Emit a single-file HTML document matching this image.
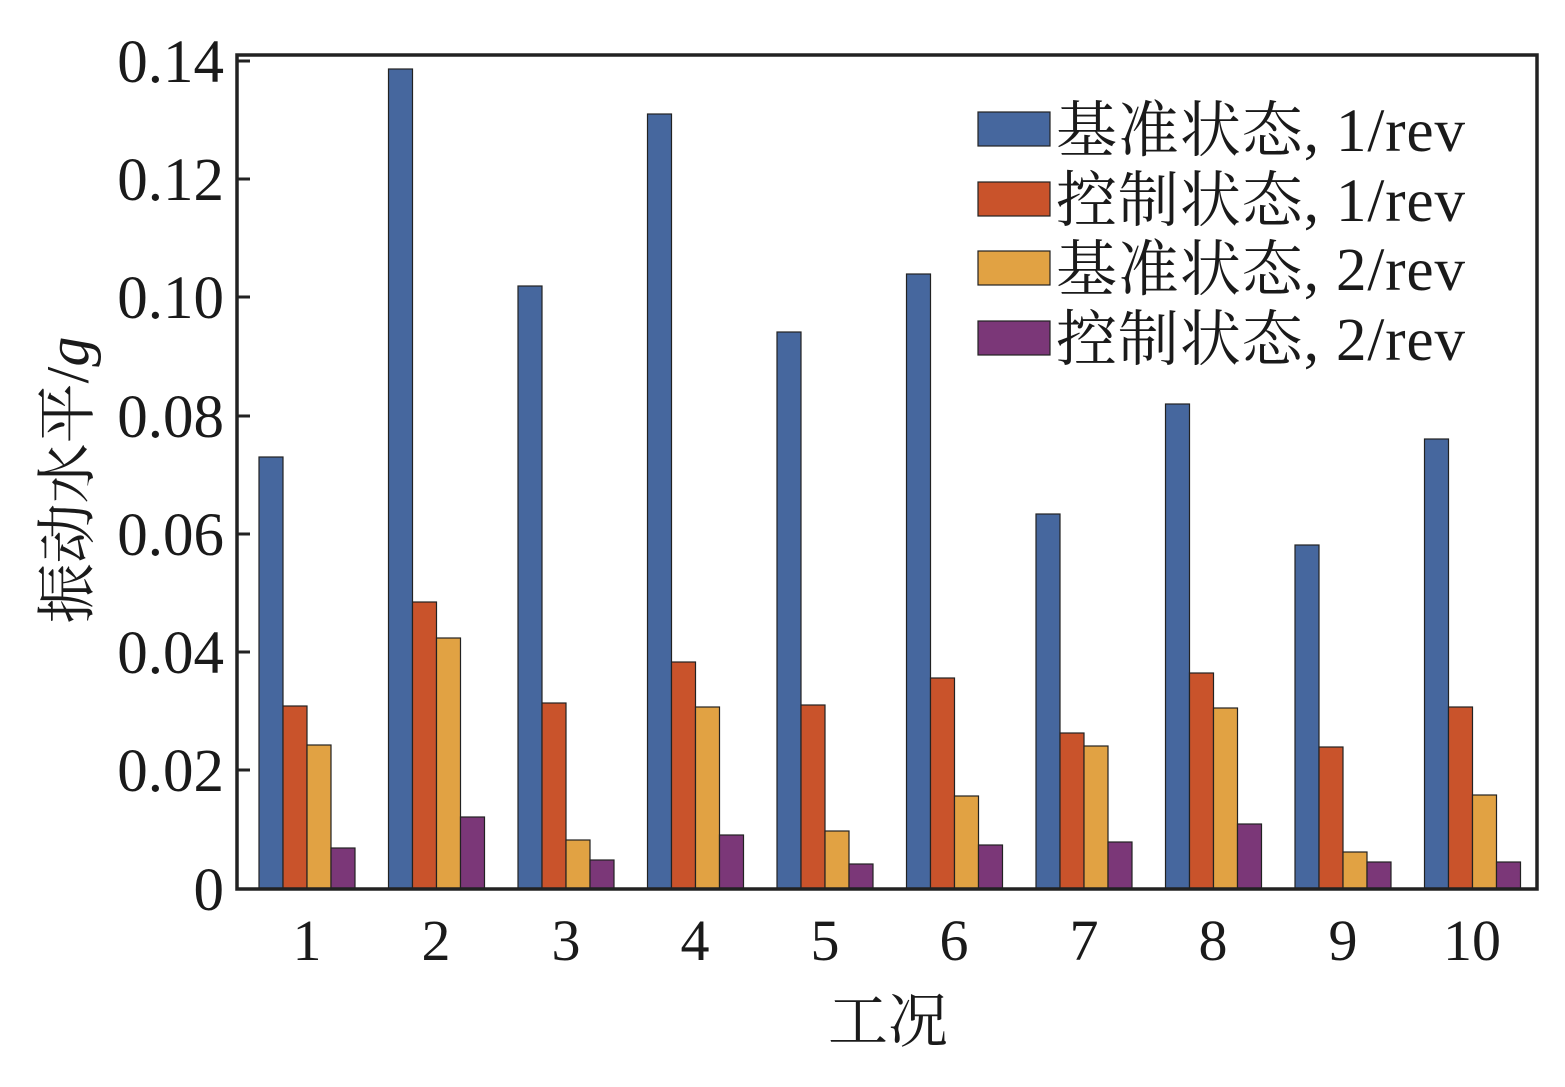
<!DOCTYPE html>
<html><head><meta charset="utf-8"><style>
body{margin:0;background:#fff}
svg text{font-family:"Liberation Serif","Noto Serif CJK SC",serif;fill:#1a1a1a}
</style></head><body>
<svg width="1565" height="1082" xmlns="http://www.w3.org/2000/svg">
<rect width="1565" height="1082" fill="#fff"/>
<g stroke="#222" stroke-width="1.2">
<rect x="259" y="457" width="24" height="432" fill="#46679e"/><rect x="283" y="706" width="24" height="183" fill="#c9532b"/><rect x="307" y="745" width="24" height="144" fill="#e1a243"/><rect x="331" y="848" width="24" height="41" fill="#7b3778"/>
<rect x="388.5" y="69" width="24" height="820" fill="#46679e"/><rect x="412.5" y="602" width="24" height="287" fill="#c9532b"/><rect x="436.5" y="638" width="24" height="251" fill="#e1a243"/><rect x="460.5" y="817" width="24" height="72" fill="#7b3778"/>
<rect x="518" y="286" width="24" height="603" fill="#46679e"/><rect x="542" y="703" width="24" height="186" fill="#c9532b"/><rect x="566" y="840" width="24" height="49" fill="#e1a243"/><rect x="590" y="860" width="24" height="29" fill="#7b3778"/>
<rect x="647.5" y="114" width="24" height="775" fill="#46679e"/><rect x="671.5" y="662" width="24" height="227" fill="#c9532b"/><rect x="695.5" y="707" width="24" height="182" fill="#e1a243"/><rect x="719.5" y="835" width="24" height="54" fill="#7b3778"/>
<rect x="777" y="332" width="24" height="557" fill="#46679e"/><rect x="801" y="705" width="24" height="184" fill="#c9532b"/><rect x="825" y="831" width="24" height="58" fill="#e1a243"/><rect x="849" y="864" width="24" height="25" fill="#7b3778"/>
<rect x="906.5" y="274" width="24" height="615" fill="#46679e"/><rect x="930.5" y="678" width="24" height="211" fill="#c9532b"/><rect x="954.5" y="796" width="24" height="93" fill="#e1a243"/><rect x="978.5" y="845" width="24" height="44" fill="#7b3778"/>
<rect x="1036" y="514" width="24" height="375" fill="#46679e"/><rect x="1060" y="733" width="24" height="156" fill="#c9532b"/><rect x="1084" y="746" width="24" height="143" fill="#e1a243"/><rect x="1108" y="842" width="24" height="47" fill="#7b3778"/>
<rect x="1165.5" y="404" width="24" height="485" fill="#46679e"/><rect x="1189.5" y="673" width="24" height="216" fill="#c9532b"/><rect x="1213.5" y="708" width="24" height="181" fill="#e1a243"/><rect x="1237.5" y="824" width="24" height="65" fill="#7b3778"/>
<rect x="1295" y="545" width="24" height="344" fill="#46679e"/><rect x="1319" y="747" width="24" height="142" fill="#c9532b"/><rect x="1343" y="852" width="24" height="37" fill="#e1a243"/><rect x="1367" y="862" width="24" height="27" fill="#7b3778"/>
<rect x="1424.5" y="439" width="24" height="450" fill="#46679e"/><rect x="1448.5" y="707" width="24" height="182" fill="#c9532b"/><rect x="1472.5" y="795" width="24" height="94" fill="#e1a243"/><rect x="1496.5" y="862" width="24" height="27" fill="#7b3778"/>
</g>
<rect x="237" y="55" width="1300" height="834" fill="none" stroke="#222" stroke-width="3.5"/>
<g stroke="#222" stroke-width="3">
<line x1="237" y1="61" x2="250" y2="61"/><line x1="237" y1="179" x2="250" y2="179"/><line x1="237" y1="297" x2="250" y2="297"/><line x1="237" y1="416" x2="250" y2="416"/><line x1="237" y1="534" x2="250" y2="534"/><line x1="237" y1="652" x2="250" y2="652"/><line x1="237" y1="770" x2="250" y2="770"/>
</g>
<g font-size="61" text-anchor="end">
<text x="224" y="82">0.14</text><text x="224" y="200">0.12</text><text x="224" y="318">0.10</text><text x="224" y="437">0.08</text><text x="224" y="555">0.06</text><text x="224" y="673">0.04</text><text x="224" y="791">0.02</text><text x="224" y="910">0</text>
</g>
<g font-size="58" text-anchor="middle">
<text x="307" y="960">1</text><text x="436" y="960">2</text><text x="566" y="960">3</text><text x="695" y="960">4</text><text x="825" y="960">5</text><text x="954" y="960">6</text><text x="1084" y="960">7</text><text x="1213" y="960">8</text><text x="1343" y="960">9</text><text x="1472" y="960">10</text>
</g>
<text x="888" y="1042" font-size="60" text-anchor="middle">工况</text>
<text transform="translate(88,480) rotate(-90)" font-size="60" text-anchor="middle">振动水平/<tspan font-style="italic">g</tspan></text>
<g stroke="#222" stroke-width="1.2">
<rect x="978" y="112" width="72" height="34" fill="#46679e"/>
<rect x="978" y="182" width="72" height="34" fill="#c9532b"/>
<rect x="978" y="251" width="72" height="34" fill="#e1a243"/>
<rect x="978" y="321" width="72" height="34" fill="#7b3778"/>
</g>
<g font-size="61">
<text x="1056" y="151" textLength="409">基准状态, 1/rev</text>
<text x="1056" y="221" textLength="409">控制状态, 1/rev</text>
<text x="1056" y="290" textLength="409">基准状态, 2/rev</text>
<text x="1056" y="360" textLength="409">控制状态, 2/rev</text>
</g>
</svg>
</body></html>
